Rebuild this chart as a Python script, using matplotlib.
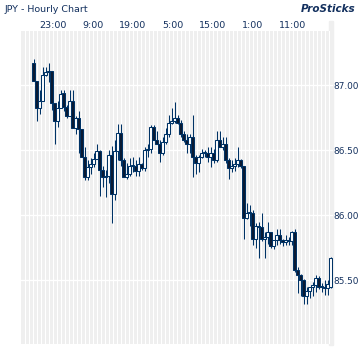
import numpy as np
import matplotlib.pyplot as plt
from matplotlib.patches import Rectangle

# hourly JPY candles (open, high, low, close)
opens = [87.17, 87.03, 86.82, 86.88, 87.08, 87.10, 87.11, 86.86, 86.72, 86.82,
         86.94, 86.83, 86.76, 86.88, 86.67, 86.75, 86.66, 86.45, 86.29, 86.37,
         86.39, 86.43, 86.49, 86.35, 86.29, 86.30, 86.46, 86.16, 86.49, 86.63,
         86.42, 86.29, 86.32, 86.38, 86.38, 86.34, 86.39, 86.36, 86.50, 86.51,
         86.68, 86.58, 86.55, 86.48, 86.56, 86.62, 86.71, 86.72, 86.75, 86.71,
         86.62, 86.58, 86.55, 86.60, 86.45, 86.40, 86.45, 86.48, 86.48, 86.45,
         86.48, 86.42, 86.58, 86.52, 86.55, 86.42, 86.36, 86.38, 86.39, 86.42,
         86.38, 85.98, 86.02, 86.02, 85.82, 85.92, 85.91, 85.82, 85.83, 85.87,
         85.76, 85.81, 85.85, 85.81, 85.79, 85.81, 85.80, 85.87, 85.58, 85.54,
         85.50, 85.38, 85.42, 85.45, 85.46, 85.52, 85.45, 85.45, 85.44, 85.45]
highs = [87.20, 87.03, 86.96, 87.14, 87.14, 87.17, 87.11, 86.86, 86.88, 86.96,
         86.96, 86.85, 86.96, 86.96, 86.76, 86.80, 86.66, 86.52, 86.42, 86.44,
         86.48, 86.55, 86.50, 86.38, 86.35, 86.50, 86.53, 86.58, 86.70, 86.70,
         86.44, 86.40, 86.44, 86.45, 86.42, 86.45, 86.40, 86.52, 86.55, 86.69,
         86.69, 86.65, 86.58, 86.60, 86.67, 86.77, 86.82, 86.87, 86.77, 86.73,
         86.65, 86.62, 86.62, 86.77, 86.46, 86.46, 86.51, 86.50, 86.52, 86.52,
         86.51, 86.65, 86.65, 86.60, 86.60, 86.44, 86.42, 86.44, 86.52, 86.43,
         86.38, 86.09, 86.08, 86.04, 85.94, 85.95, 86.02, 85.87, 85.95, 85.87,
         85.81, 85.89, 85.89, 85.82, 85.85, 85.83, 85.88, 85.89, 85.60, 85.55,
         85.51, 85.45, 85.45, 85.49, 85.54, 85.53, 85.48, 85.50, 85.50, 85.68]
lows = [87.03, 86.72, 86.78, 86.88, 87.07, 87.02, 86.81, 86.55, 86.68, 86.82,
        86.80, 86.75, 86.76, 86.67, 86.62, 86.48, 86.45, 86.27, 86.27, 86.32,
        86.37, 86.43, 86.15, 86.22, 86.14, 86.25, 85.94, 86.12, 86.42, 86.38,
        86.29, 86.28, 86.30, 86.33, 86.30, 86.30, 86.35, 86.34, 86.45, 86.48,
        86.58, 86.55, 86.41, 86.46, 86.55, 86.60, 86.70, 86.71, 86.70, 86.60,
        86.56, 86.48, 86.48, 86.29, 86.32, 86.33, 86.44, 86.45, 86.41, 86.37,
        86.40, 86.41, 86.52, 86.50, 86.40, 86.28, 86.33, 86.34, 86.37, 86.36,
        85.82, 85.97, 85.92, 85.77, 85.75, 85.67, 85.80, 85.67, 85.78, 85.75,
        85.74, 85.77, 85.78, 85.76, 85.77, 85.77, 85.77, 85.56, 85.40, 85.38,
        85.32, 85.32, 85.36, 85.38, 85.41, 85.43, 85.41, 85.39, 85.39, 85.44]
closes = [87.03, 86.82, 86.88, 87.08, 87.10, 87.11, 86.86, 86.72, 86.82, 86.93,
          86.83, 86.76, 86.88, 86.67, 86.75, 86.66, 86.45, 86.29, 86.37, 86.39,
          86.43, 86.49, 86.35, 86.29, 86.30, 86.46, 86.16, 86.49, 86.63, 86.42,
          86.29, 86.32, 86.38, 86.38, 86.34, 86.39, 86.36, 86.50, 86.51, 86.68,
          86.58, 86.55, 86.48, 86.56, 86.62, 86.71, 86.72, 86.75, 86.71, 86.62,
          86.58, 86.55, 86.60, 86.45, 86.40, 86.45, 86.48, 86.48, 86.45, 86.48,
          86.42, 86.58, 86.52, 86.55, 86.42, 86.36, 86.38, 86.39, 86.42, 86.38,
          85.98, 86.02, 86.02, 85.82, 85.92, 85.91, 85.82, 85.83, 85.87, 85.76,
          85.81, 85.85, 85.81, 85.79, 85.81, 85.80, 85.87, 85.58, 85.54, 85.50,
          85.38, 85.42, 85.45, 85.46, 85.52, 85.45, 85.45, 85.44, 85.47, 85.67]

time_labels = ['23:00', '9:00', '19:00', '5:00', '15:00', '1:00', '11:00']
time_pos = [6.5, 19.83, 33.17, 46.5, 59.83, 73.17, 86.5]
price_ticks = [85.50, 86.00, 86.50, 87.00]

navy = '#003366'
txt = '#13305e'
grey = '#efefef'

fig = plt.figure(figsize=(3.6, 3.6), dpi=100)
fig.patch.set_facecolor('white')
ax = fig.add_axes([21/360, 16/360, 312/360, 313/360])
ax.set_facecolor(grey)

# solid grey column at the right edge, a bit taller than the plot (behind the axes)
fig.patches.append(Rectangle((329/360, 15/360), 4/360, 324/360,
                             transform=fig.transFigure, color=grey, zorder=-1))

n = len(opens)
x = np.arange(n)
ax.set_xlim(-4.17, 99.83)
ax.set_ylim(85.01, 87.415)

# white vertical stripes, every 4 px
for px in range(24, 329, 4):
    ax.axvline((px + 0.5 - 33.5) / 3.0, color='white', lw=0.72, zorder=0)
for p in price_ticks:
    ax.axhline(p, color='white', lw=0.9, zorder=0)

o = np.array(opens); h = np.array(highs); l = np.array(lows); c = np.array(closes)
up = c >= o
ax.vlines(x, l, h, color=navy, lw=0.75, zorder=2)
body_lo = np.minimum(o, c)
body_h = np.maximum(np.abs(c - o), 0.008)
ax.bar(x[up], body_h[up], bottom=body_lo[up], width=0.7, color='white',
       edgecolor=navy, linewidth=0.75, zorder=3)
ax.bar(x[~up], body_h[~up], bottom=body_lo[~up], width=0.7, color='#0b1a33',
       edgecolor=navy, linewidth=0.75, zorder=3)

for s in ax.spines.values():
    s.set_visible(False)

ax.xaxis.tick_top()
ax.set_xticks(time_pos)
ax.set_xticklabels(time_labels)
ax.yaxis.tick_right()
ax.set_yticks(price_ticks)
ax.set_yticklabels(['%.2f' % p for p in price_ticks])
ax.tick_params(axis='x', length=0, pad=1, labelsize=6.8, labelcolor=txt)
ax.tick_params(axis='y', length=0, pad=0.5, labelsize=6.4, labelcolor=txt)

fig.text(5/360, 1 - 9/360, 'JPY - Hourly Chart', fontsize=6.8, color=txt,
         va='center', ha='left')
fig.text(355/360, 1 - 9/360, 'ProSticks', fontsize=7.5, color=txt,
         fontweight='bold', fontstyle='italic', va='center', ha='right')

plt.savefig('out.png', dpi=100)
